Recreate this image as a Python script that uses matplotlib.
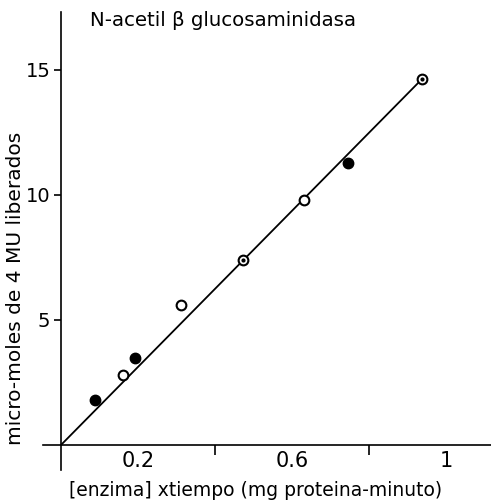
import matplotlib
matplotlib.use("Agg")
import matplotlib.pyplot as plt

# Data
filled_x = [0.087, 0.191, 0.746]
filled_y = [1.78, 3.47, 11.27]
open_x = [0.159, 0.312, 0.631]
open_y = [2.77, 5.57, 9.78]
dot_x = [0.471, 0.937]
dot_y = [7.38, 14.61]
line_x = [0.0, 0.937]
line_y = [0.0, 14.61]

xtick_pos = [0.2, 0.6, 1.0]
xtick_labels = ["0.2", "0.6", "1"]
xminor_pos = [0.4, 0.8]
ytick_pos = [5, 10, 15]
ytick_labels = ["5", "10", "15"]

title = "N-acetil β glucosaminidasa"
xlabel = "[enzima] xtiempo (mg proteina-minuto)"
ylabel = "micro-moles de 4 MU liberados"

plt.rcParams['font.family'] = ['DejaVu Sans']

W, H = 491, 503
fig = plt.figure(figsize=(W / 100, H / 100), dpi=100)
ax = fig.add_axes([43 / W, (H - 470) / H, (W - 43) / W, (470 - 12) / H])
ax.set_xlim(-0.048, 1.117)
ax.set_ylim(-1.02, 17.3)

for s in ["top", "right"]:
    ax.spines[s].set_visible(False)
ax.spines["left"].set_position(("data", 0))
ax.spines["bottom"].set_position(("data", 0))
ax.spines["left"].set_linewidth(1.2)
ax.spines["bottom"].set_linewidth(1.2)

ax.plot(line_x, line_y, color="black", lw=1.3, zorder=2)
ax.plot(filled_x, filled_y, "o", ms=7.5, color="black", zorder=3)
ax.plot(open_x, open_y, "o", ms=7, mfc="white", mec="black", mew=1.5, zorder=3)
ax.plot(dot_x, dot_y, "o", ms=7, mfc="white", mec="black", mew=1.5, zorder=3)
ax.plot(dot_x, dot_y, "o", ms=2, color="black", zorder=4)

ax.set_xticks(xtick_pos)
ax.set_xticklabels(xtick_labels, fontsize=15)
ax.set_xticks(xminor_pos, minor=True)
ax.tick_params(axis="x", which="major", length=0, pad=5)
ax.tick_params(axis="x", which="minor", length=7, width=1.2, direction="out")
ax.set_yticks(ytick_pos)
ax.set_yticklabels(ytick_labels, fontsize=14)
ax.tick_params(axis="y", which="major", length=5, width=1.2, direction="out", pad=3)

fig.text(90 / W, 1 - 21 / H, title, fontsize=14.2, ha="left", va="center")
fig.text(256 / W, 1 - 490 / H, xlabel, fontsize=13.5, ha="center", va="center")
fig.text(16 / W, 1 - 288 / H, ylabel, fontsize=14.5, ha="center", va="center", rotation=90)

fig.savefig("out.png", dpi=100)
